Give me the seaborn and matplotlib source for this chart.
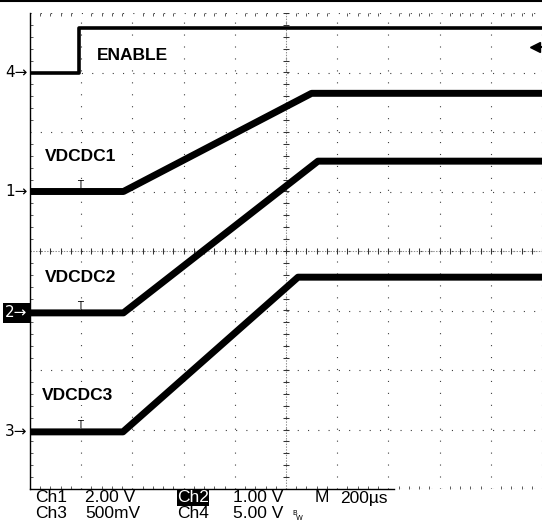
import matplotlib.pyplot as plt
from matplotlib.lines import Line2D
import numpy as np
import pandas as pd
import seaborn as sns

# Scope capture: time base 200 us/div, 10 divisions across, 8 divisions high
enable_t = [0, 190, 190, 2000]
enable_v = [0.0, 0.0, 3.7, 3.7]
vdcdc1_t = [0, 365, 1100, 2000]
vdcdc1_v = [0.0, 0.0, 3.3, 3.3]
vdcdc2_t = [0, 365, 1125, 2000]
vdcdc2_v = [0.0, 0.0, 2.55, 2.55]
vdcdc3_t = [0, 363, 1047, 2000]
vdcdc3_v = [0.0, 0.0, 1.3, 1.3]

trace_names = ['ENABLE', 'VDCDC1', 'VDCDC2', 'VDCDC3']
channel_nums = [4, 1, 2, 3]
volts_per_div = [5.0, 2.0, 1.0, 0.5]
position_div = [3.0, 1.0, -1.04, -3.04]

W, H = 542, 527

sns.set_style('white')
plt.rcParams['font.family'] = ['Liberation Sans', 'DejaVu Sans']
plt.rcParams['text.color'] = 'black'
plt.rcParams['lines.scale_dashes'] = False

fig = plt.figure(figsize=(W / 100, H / 100), dpi=100)
# graticule occupies pixels x 30..542, y 13..489
ax = fig.add_axes([30 / W, 1 - 489 / H, 512 / W, 476 / H])
ax.set_xlim(0, 2000)
ax.set_ylim(-4, 4)


def fx(px):
    return px / W


def fy(py):
    return 1 - py / H


# Graticule
ax.set_xticks(np.arange(0, 2001, 200))
ax.set_yticks(np.arange(-4, 5, 1))
ax.set_xticks(np.arange(0, 2001, 40), minor=True)
ax.set_yticks(np.arange(-4, 4.01, 0.2), minor=True)
ax.tick_params(which='major', length=0, labelbottom=False, labelleft=False)
ax.tick_params(which='minor', direction='in', length=2, width=0.7, color='0.35',
               top=True, bottom=True, left=True, right=False)
ax.xaxis.grid(True, color='0.25', lw=0.8, ls=(0, (0.8, 7.8)))
ax.yaxis.grid(True, color='0.25', lw=0.8, ls=(0, (0.8, 6.6)))
for side in ['top', 'right']:
    ax.spines[side].set_visible(False)
ax.spines['left'].set_linewidth(1.0)
ax.spines['left'].set_color('black')
ax.spines['bottom'].set_linewidth(1.0)
ax.spines['bottom'].set_color('black')
ax.spines['bottom'].set_bounds(0, 1420)

# center cross with small ticks
ax.axhline(0, color='0.55', lw=0.75, ls=(0, (1, 1)))
ax.axvline(1000, color='0.55', lw=0.75, ls=(0, (1, 1)))
ax.plot(np.arange(0, 2001, 40), np.zeros(51), ls='none', marker='|',
        ms=4, mew=0.75, color='0.2')
ax.plot(np.full(41, 1000), np.arange(-4, 4.01, 0.2), ls='none', marker='_',
        ms=4, mew=0.75, color='0.2')

# Traces
traces = [(enable_t, enable_v), (vdcdc1_t, vdcdc1_v),
          (vdcdc2_t, vdcdc2_v), (vdcdc3_t, vdcdc3_v)]
for (t, v), name, vd, pos in zip(traces, trace_names, volts_per_div, position_div):
    df = pd.DataFrame({'time': t, 'div': pos + np.array(v) / vd})
    sns.lineplot(data=df, x='time', y='div', ax=ax, color='black',
                 lw=2.6 if name == 'ENABLE' else 5.0,
                 estimator=None, sort=False, zorder=5)
ax.set_xlabel('')
ax.set_ylabel('')

# Trace labels
label_pos = {'ENABLE': (97, 55), 'VDCDC1': (45, 157),
             'VDCDC2': (45, 278), 'VDCDC3': (42, 395)}
for name in trace_names:
    x, y = label_pos[name]
    fig.text(fx(x), fy(y), name, fontsize=12.5, fontweight='bold',
             ha='left', va='center',
             bbox=dict(facecolor='white', edgecolor='none', pad=1.5))

# Channel markers on the left, trigger-position marks above each trace
for num, pos in zip(channel_nums, position_div):
    py = 251 - pos * 59.5
    if num == 2:
        fig.text(fx(5), fy(py), f'{num}\u2192', fontsize=11, color='white',
                 family=['DejaVu Sans'], ha='left', va='center',
                 bbox=dict(facecolor='black', edgecolor='none', pad=1.5))
    else:
        fig.text(fx(5), fy(py), f'{num}\u2192', fontsize=11,
                 family=['DejaVu Sans'], ha='left', va='center')
    if num != 4:
        fig.text(fx(80), fy(py - 7), 'T', fontsize=7, family=['DejaVu Sans'],
                 ha='center', va='center')

# Trigger level arrow on the right
fig.add_artist(Line2D([fx(533), fx(542)], [fy(47), fy(47)], color='black',
                      lw=1.5, transform=fig.transFigure))
fig.add_artist(Line2D([fx(535)], [fy(47)], color='black', marker='<', ms=7,
                      ls='none', transform=fig.transFigure))

# Readouts below the graticule
ro_font = ['Liberation Sans', 'DejaVu Sans']
row1, row2 = 498, 514
readouts = [(35, row1, 'Ch1'), (85, row1, '2.00 V'), (233, row1, '1.00 V'),
            (315, row1, 'M'), (340, row1, '200\u00b5s'),
            (35, row2, 'Ch3'), (85, row2, '500mV'), (177, row2, 'Ch4'),
            (233, row2, '5.00 V')]
for x, y, s in readouts:
    fig.text(fx(x), fy(y), s, fontsize=12.5, family=ro_font,
             ha='left', va='center')
fig.text(fx(177), fy(row1), 'Ch2', fontsize=12.5, family=ro_font, color='white',
         ha='left', va='center',
         bbox=dict(facecolor='black', edgecolor='none', pad=0.2))
fig.text(fx(292), fy(513), 'B', fontsize=5, family=['DejaVu Sans'],
         ha='left', va='center')
fig.text(fx(296), fy(518), 'W', fontsize=5, family=['DejaVu Sans'],
         ha='left', va='center')

# black band along the very top of the capture
fig.add_artist(Line2D([0, 1], [fy(1), fy(1)], color='black', lw=1.5,
                      transform=fig.transFigure))

fig.savefig('out.png', dpi=100)
